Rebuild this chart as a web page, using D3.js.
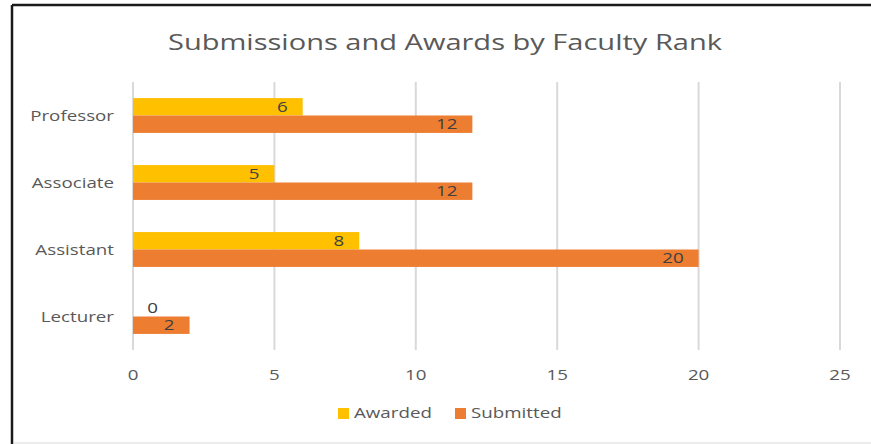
<!DOCTYPE html>
<html>
<head>
<meta charset="utf-8">
<script src="https://cdn.jsdelivr.net/npm/d3@7"></script>
<style>
  body { margin: 0; background: #fff; }
  svg { display: block; font-family: "Open Sans", "DejaVu Sans", sans-serif; }
</style>
</head>
<body>
<div id="chart"></div>
<script>
// Faculty ranks, top to bottom
const ranks = ['Professor', 'Associate', 'Assistant', 'Lecturer'];
const awarded = [6, 5, 8, 0];
const submitted = [12, 12, 20, 2];
const seriesNames = ['Awarded', 'Submitted'];
const seriesColours = ['#ffc000', '#ed7d31'];
const xTicks = [0, 5, 10, 15, 20, 25];

const width = 871;
const height = 444;
const margin = { top: 82, right: 31, bottom: 94, left: 133 };
const stretch = 1.25; // the source font is wider than Open Sans

const svg = d3.select('#chart')
  .append('svg')
  .attr('width', width)
  .attr('height', height);

// Frame: dark top/left edges, light bottom edge
svg.append('rect').attr('x', 0).attr('y', 0).attr('width', width).attr('height', height).attr('fill', '#fff');
svg.append('line').attr('x1', 12).attr('x2', width).attr('y1', 5).attr('y2', 5)
  .attr('stroke', '#1a1a1a').attr('stroke-width', 2.5);
svg.append('line').attr('x1', 12).attr('x2', 12).attr('y1', 5).attr('y2', height)
  .attr('stroke', '#1a1a1a').attr('stroke-width', 2.5);
svg.append('line').attr('x1', 14).attr('x2', width).attr('y1', 443).attr('y2', 443)
  .attr('stroke', '#d9d9d9').attr('stroke-width', 1);

// Title
svg.append('text')
  .attr('transform', 'translate(445,50) scale(1.32,1)')
  .attr('text-anchor', 'middle')
  .style('font-size', '22px')
  .style('fill', '#595959')
  .text('Submissions and Awards by Faculty Rank');

const x = d3.scaleLinear().domain([0, 25]).range([margin.left, width - margin.right]);
const y = d3.scaleBand().domain(ranks).range([margin.top, height - margin.bottom]).paddingInner(0.48).paddingOuter(0.24);
const sub = d3.scaleBand().domain(seriesNames).range([0, y.bandwidth()]);

// Gridlines
svg.append('g')
  .selectAll('line')
  .data(xTicks)
  .join('line')
  .attr('x1', d => x(d))
  .attr('x2', d => x(d))
  .attr('y1', margin.top)
  .attr('y2', height - margin.bottom)
  .attr('stroke', '#d9d9d9')
  .attr('stroke-width', 2);

// Bars
const rows = ranks.map((r, i) => ({ rank: r, values: [awarded[i], submitted[i]] }));
const bars = [];
rows.forEach(row => row.values.forEach((v, j) => bars.push({ rank: row.rank, series: seriesNames[j], colour: seriesColours[j], value: v })));

svg.append('g')
  .selectAll('rect')
  .data(bars)
  .join('rect')
  .attr('x', x(0))
  .attr('y', d => y(d.rank) + sub(d.series))
  .attr('width', d => x(d.value) - x(0))
  .attr('height', sub.bandwidth())
  .attr('fill', d => d.colour);

// Value labels, inside end
svg.append('g')
  .selectAll('text')
  .data(bars)
  .join('text')
  .attr('transform', d => {
    const tx = Math.max(x(d.value) - 15, x(0) + 25);
    const ty = y(d.rank) + sub(d.series) + sub.bandwidth() / 2;
    return `translate(${tx},${ty}) scale(${stretch},1)`;
  })
  .attr('dy', '0.35em')
  .attr('text-anchor', 'end')
  .style('font-size', '15px')
  .style('fill', '#404040')
  .text(d => d.value);

// Category labels
svg.append('g')
  .selectAll('text')
  .data(ranks)
  .join('text')
  .attr('transform', d => `translate(${margin.left - 19},${y(d) + y.bandwidth() / 2}) scale(${stretch},1)`)
  .attr('dy', '0.35em')
  .attr('text-anchor', 'end')
  .style('font-size', '15px')
  .style('fill', '#595959')
  .text(d => d);

// X tick labels
svg.append('g')
  .selectAll('text')
  .data(xTicks)
  .join('text')
  .attr('transform', d => `translate(${x(d)},375) scale(${stretch},1)`)
  .attr('dy', '0.35em')
  .attr('text-anchor', 'middle')
  .style('font-size', '15px')
  .style('fill', '#595959')
  .text(d => d);

// Legend
const legendX = [338, 455];
const legend = svg.append('g')
  .selectAll('g')
  .data(seriesNames)
  .join('g')
  .attr('transform', (d, i) => `translate(${legendX[i]},413)`);
legend.append('rect')
  .attr('x', 0).attr('y', -5)
  .attr('width', 11).attr('height', 11)
  .attr('fill', (d, i) => seriesColours[i]);
legend.append('text')
  .attr('transform', `translate(16,0) scale(${stretch},1)`)
  .attr('dy', '0.35em')
  .style('font-size', '15px')
  .style('fill', '#595959')
  .text(d => d);
</script>
</body>
</html>
